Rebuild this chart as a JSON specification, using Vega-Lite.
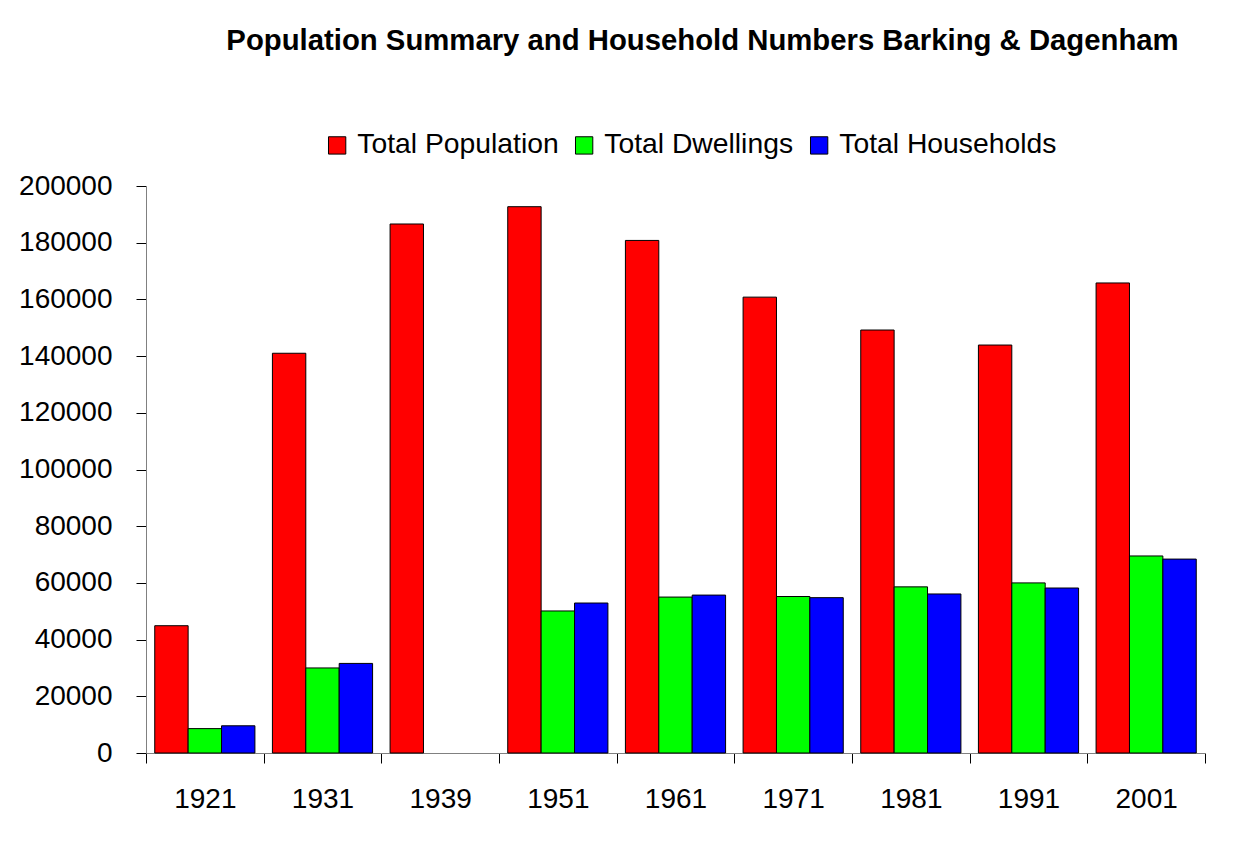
{
  "$schema": "https://vega.github.io/schema/vega-lite/v6.json",
  "autosize": "none",
  "width": 1059,
  "height": 567,
  "padding": {"left": 146, "top": 186, "right": 44, "bottom": 99},
  "background": "white",
  "title": {
    "text": "Population Summary  and Household Numbers Barking & Dagenham",
    "font": "Liberation Sans",
    "fontSize": 29.3,
    "fontWeight": "bold",
    "color": "black",
    "anchor": "middle",
    "frame": "group",
    "baseline": "alphabetic",
    "offset": 52,
    "dx": 27
  },
  "data": {
    "values": [
      {"year": "1921", "series": "Total Population", "value": 44900},
      {"year": "1921", "series": "Total Dwellings", "value": 8600},
      {"year": "1921", "series": "Total Households", "value": 9600},
      {"year": "1931", "series": "Total Population", "value": 141000},
      {"year": "1931", "series": "Total Dwellings", "value": 30000},
      {"year": "1931", "series": "Total Households", "value": 31600},
      {"year": "1939", "series": "Total Population", "value": 186600},
      {"year": "1951", "series": "Total Population", "value": 192700},
      {"year": "1951", "series": "Total Dwellings", "value": 50100},
      {"year": "1951", "series": "Total Households", "value": 52900},
      {"year": "1961", "series": "Total Population", "value": 180800},
      {"year": "1961", "series": "Total Dwellings", "value": 55000},
      {"year": "1961", "series": "Total Households", "value": 55700},
      {"year": "1971", "series": "Total Population", "value": 160800},
      {"year": "1971", "series": "Total Dwellings", "value": 55200},
      {"year": "1971", "series": "Total Households", "value": 54800},
      {"year": "1981", "series": "Total Population", "value": 149200},
      {"year": "1981", "series": "Total Dwellings", "value": 58600},
      {"year": "1981", "series": "Total Households", "value": 56100},
      {"year": "1991", "series": "Total Population", "value": 143900},
      {"year": "1991", "series": "Total Dwellings", "value": 60000},
      {"year": "1991", "series": "Total Households", "value": 58200},
      {"year": "2001", "series": "Total Population", "value": 165800},
      {"year": "2001", "series": "Total Dwellings", "value": 69500},
      {"year": "2001", "series": "Total Households", "value": 68400}
    ]
  },
  "mark": {"type": "bar", "stroke": "black", "strokeWidth": 1},
  "encoding": {
    "x": {
      "field": "year",
      "type": "nominal",
      "title": null,
      "scale": {"paddingInner": 0, "paddingOuter": 0},
      "axis": {
        "labelAngle": 0,
        "labelFont": "Liberation Sans",
        "labelFontSize": 28,
        "labelColor": "black",
        "labelPadding": 22,
        "tickBand": "extent",
        "tickSize": 10,
        "tickColor": "black",
        "domainColor": "#808080",
        "grid": false
      }
    },
    "xOffset": {
      "field": "series",
      "type": "nominal",
      "sort": ["Total Population", "Total Dwellings", "Total Households"],
      "scale": {"paddingInner": 0, "paddingOuter": 0.262}
    },
    "y": {
      "field": "value",
      "type": "quantitative",
      "title": null,
      "scale": {"domain": [0, 200000], "nice": false},
      "axis": {
        "values": [0, 20000, 40000, 60000, 80000, 100000, 120000, 140000, 160000, 180000, 200000],
        "format": "d",
        "labelFont": "Liberation Sans",
        "labelFontSize": 28,
        "labelColor": "black",
        "labelPadding": 24,
        "tickSize": 10,
        "tickColor": "black",
        "domainColor": "#808080",
        "grid": false
      }
    },
    "color": {
      "field": "series",
      "type": "nominal",
      "sort": ["Total Population", "Total Dwellings", "Total Households"],
      "scale": {"domain": ["Total Population", "Total Dwellings", "Total Households"], "range": ["#ff0000", "#00ff00", "#0000ff"]},
      "legend": {
        "title": null,
        "orient": "none",
        "direction": "horizontal",
        "legendX": 177,
        "legendY": -55,
        "symbolType": "square",
        "symbolSize": 300,
        "symbolStrokeColor": "black",
        "symbolStrokeWidth": 1,
        "symbolOpacity": 1,
        "labelFont": "Liberation Sans",
        "labelFontSize": 28.3,
        "labelColor": "black",
        "labelOffset": 6,
        "columnPadding": 11,
        "labelLimit": 400
      }
    }
  },
  "config": {
    "view": {"stroke": null},
    "axis": {"domainWidth": 1, "tickWidth": 1}
  }
}
